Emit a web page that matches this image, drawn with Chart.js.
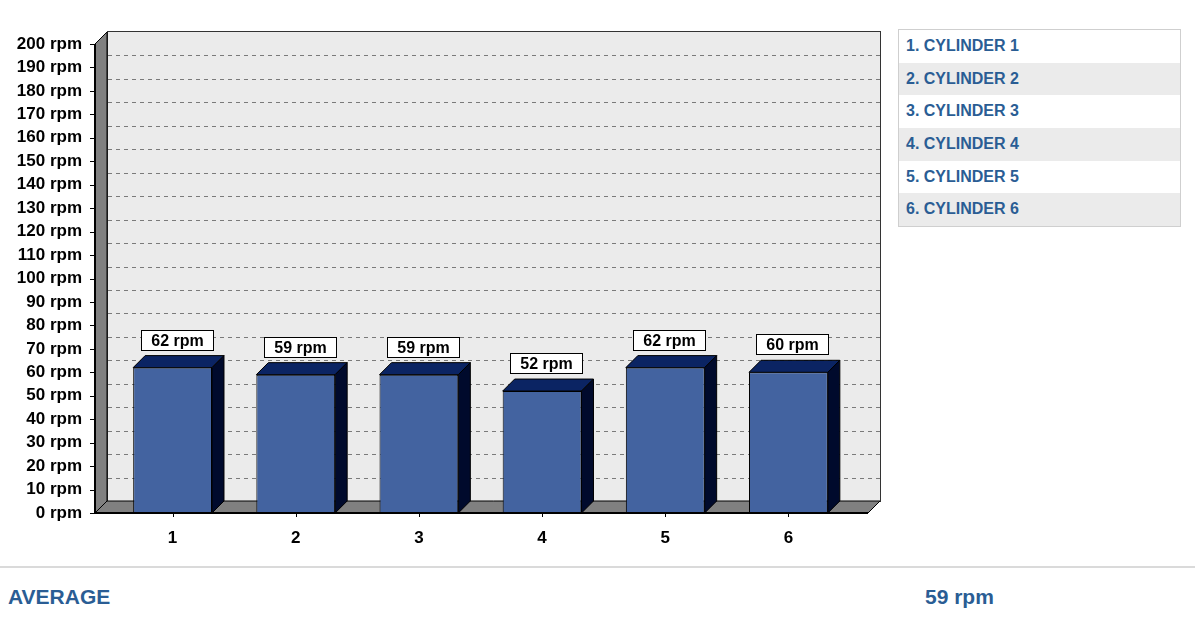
<!DOCTYPE html>
<html>
<head>
<meta charset="utf-8">
<script src="https://cdn.jsdelivr.net/npm/chart.js@4.4.1/dist/chart.umd.min.js"></script>
<style>
  html, body { margin:0; padding:0; background:#fff; width:1195px; height:625px; overflow:hidden; font-family:"Liberation Sans", Arial, sans-serif; }
  #wrap { position:absolute; left:0; top:0; width:890px; height:560px; }
  #legend { position:absolute; left:898px; top:29px; width:283px; border:1px solid #cfcfcf; box-sizing:border-box; }
  #legend div { height:32.7px; line-height:31px; padding-left:7px; font-weight:bold; font-size:16px; color:#2a5d94; }
  #legend div:nth-child(even) { background:#ebebeb; }
  #sep { position:absolute; left:0; top:566px; width:1195px; height:2px; background:#dadada; }
  .avg { position:absolute; top:584px; font-weight:bold; font-size:21px; color:#2a5d94; line-height:26px; }
</style>
</head>
<body>
<div id="wrap"><canvas id="c" width="890" height="560"></canvas></div>
<div id="legend"></div>
<div id="sep"></div>
<div class="avg" style="left:8px">AVERAGE</div>
<div class="avg" id="avgv" style="left:925px"></div>
<script>
const categories = ['1', '2', '3', '4', '5', '6'];
const seriesNames = ['CYLINDER 1', 'CYLINDER 2', 'CYLINDER 3', 'CYLINDER 4', 'CYLINDER 5', 'CYLINDER 6'];
const rpmValues = [62, 59, 59, 52, 62, 60];
const unit = 'rpm';
const yMin = 0, yMax = 200, yStep = 10;

const FONT = '"Liberation Sans", Arial, sans-serif';

// legend & average
const leg = document.getElementById('legend');
seriesNames.forEach((n, i) => {
  const d = document.createElement('div');
  d.textContent = (i + 1) + '. ' + n;
  leg.appendChild(d);
});
const avg = Math.round(rpmValues.reduce((a, b) => a + b, 0) / rpmValues.length);
document.getElementById('avgv').textContent = avg + ' ' + unit;

const D = 12; // 3D depth

const threeD = {
  id: 'threeD',
  beforeDatasetsDraw(chart) {
    const { ctx, chartArea: ca, scales: { y } } = chart;
    const fl = ca.left - 16, fr = ca.right + 18;
    const top = y.getPixelForValue(yMax), bot = y.getPixelForValue(yMin);
    ctx.save();
    // back wall
    ctx.fillStyle = '#ebebeb';
    ctx.fillRect(fl + D, top - D - 1, fr - fl, bot - top + 1);
    ctx.strokeStyle = '#333';
    ctx.lineWidth = 1;
    ctx.strokeRect(fl + D + 0.5, top - D - 0.5, fr - fl, bot - top + 1);
    // grid lines
    ctx.setLineDash([4, 4]);
    ctx.strokeStyle = '#7a7a7a';
    for (let v = yMin + yStep; v < yMax; v += yStep) {
      const py = Math.round(y.getPixelForValue(v) - D) + 0.5;
      ctx.beginPath(); ctx.moveTo(fl + D + 1, py); ctx.lineTo(fr + D, py); ctx.stroke();
    }
    ctx.setLineDash([]);
    // left wall
    ctx.fillStyle = '#808080';
    ctx.strokeStyle = '#000';
    ctx.beginPath();
    ctx.moveTo(fl, top); ctx.lineTo(fl + D, top - D); ctx.lineTo(fl + D, bot - D); ctx.lineTo(fl, bot); ctx.closePath();
    ctx.fill(); ctx.stroke();
    // floor
    ctx.beginPath();
    ctx.moveTo(fl, bot); ctx.lineTo(fl + D, bot - D); ctx.lineTo(fr + D, bot - D); ctx.lineTo(fr, bot); ctx.closePath();
    ctx.fill(); ctx.stroke();
    // axis lines
    ctx.lineWidth = 2;
    ctx.beginPath(); ctx.moveTo(fl, top); ctx.lineTo(fl, bot); ctx.lineTo(fr, bot); ctx.stroke();
    ctx.lineWidth = 1;
    for (let v = yMin; v <= yMax; v += yStep) {
      const py = Math.round(y.getPixelForValue(v)) + 0.5;
      ctx.beginPath(); ctx.moveTo(fl - 5, py); ctx.lineTo(fl, py); ctx.stroke();
    }
    const x = chart.scales.x;
    categories.forEach((c, i) => {
      const px = Math.round(x.getPixelForValue(i)) + 0.5;
      ctx.beginPath(); ctx.moveTo(px, bot); ctx.lineTo(px, bot + 4); ctx.stroke();
    });
    ctx.restore();
  },
  afterDatasetsDraw(chart) {
    const { ctx } = chart;
    const meta = chart.getDatasetMeta(0);
    ctx.save();
    ctx.strokeStyle = '#000';
    ctx.lineWidth = 1;
    meta.data.forEach((bar, i) => {
      const p = bar.getProps(['x', 'y', 'base', 'width'], true);
      const l = p.x - p.width / 2, r = p.x + p.width / 2;
      // top face
      ctx.fillStyle = '#0b2463';
      ctx.beginPath();
      ctx.moveTo(l, p.y); ctx.lineTo(l + D, p.y - D); ctx.lineTo(r + D, p.y - D); ctx.lineTo(r, p.y); ctx.closePath();
      ctx.fill(); ctx.stroke();
      // side face
      ctx.fillStyle = '#000a2c';
      ctx.beginPath();
      ctx.moveTo(r, p.y); ctx.lineTo(r + D, p.y - D); ctx.lineTo(r + D, p.base - D); ctx.lineTo(r, p.base); ctx.closePath();
      ctx.fill(); ctx.stroke();
    });
    // value labels
    ctx.font = 'bold 16px ' + FONT;
    ctx.textAlign = 'center';
    ctx.textBaseline = 'middle';
    meta.data.forEach((bar, i) => {
      const p = bar.getProps(['x', 'y'], true);
      const txt = rpmValues[i] + ' ' + unit;
      const w = Math.round(ctx.measureText(txt).width) + 20;
      const h = 20;
      const cx = p.x + D / 2 - 2;
      const by = p.y - D - 6;
      const bx = Math.round(cx - w / 2) + 0.5, byt = Math.round(by - h) + 0.5;
      ctx.fillStyle = '#fff';
      ctx.fillRect(bx, byt, w, h);
      ctx.strokeStyle = '#000';
      ctx.strokeRect(bx, byt, w, h);
      ctx.fillStyle = '#000';
      ctx.fillText(txt, bx + w / 2, byt + h / 2 + 1);
    });
    ctx.restore();
  }
};

new Chart(document.getElementById('c'), {
  type: 'bar',
  data: {
    labels: categories,
    datasets: [{
      data: rpmValues,
      backgroundColor: '#4363a0',
      borderColor: '#000',
      borderWidth: 1,
      borderSkipped: false,
      barPercentage: 0.64,
      categoryPercentage: 1
    }]
  },
  options: {
    responsive: false,
    animation: false,
    layout: { padding: { left: 0, right: 40, top: 44, bottom: 0 } },
    plugins: { legend: { display: false }, tooltip: { enabled: false } },
    scales: {
      x: {
        grid: { display: false, drawTicks: false },
        border: { display: false },
        ticks: { color: '#000', font: { family: FONT, size: 17, weight: 'bold' }, padding: 15 },
        afterFit(a) { a.height = 47; }
      },
      y: {
        min: yMin, max: yMax,
        grid: { display: false, drawTicks: false },
        border: { display: false },
        ticks: {
          stepSize: yStep,
          color: '#000',
          font: { family: FONT, size: 17, weight: 'bold' },
          padding: 29,
          callback: v => v + ' ' + unit
        },
        afterFit(a) { a.width = 111; }
      }
    }
  },
  plugins: [threeD]
});
</script>
</body>
</html>
